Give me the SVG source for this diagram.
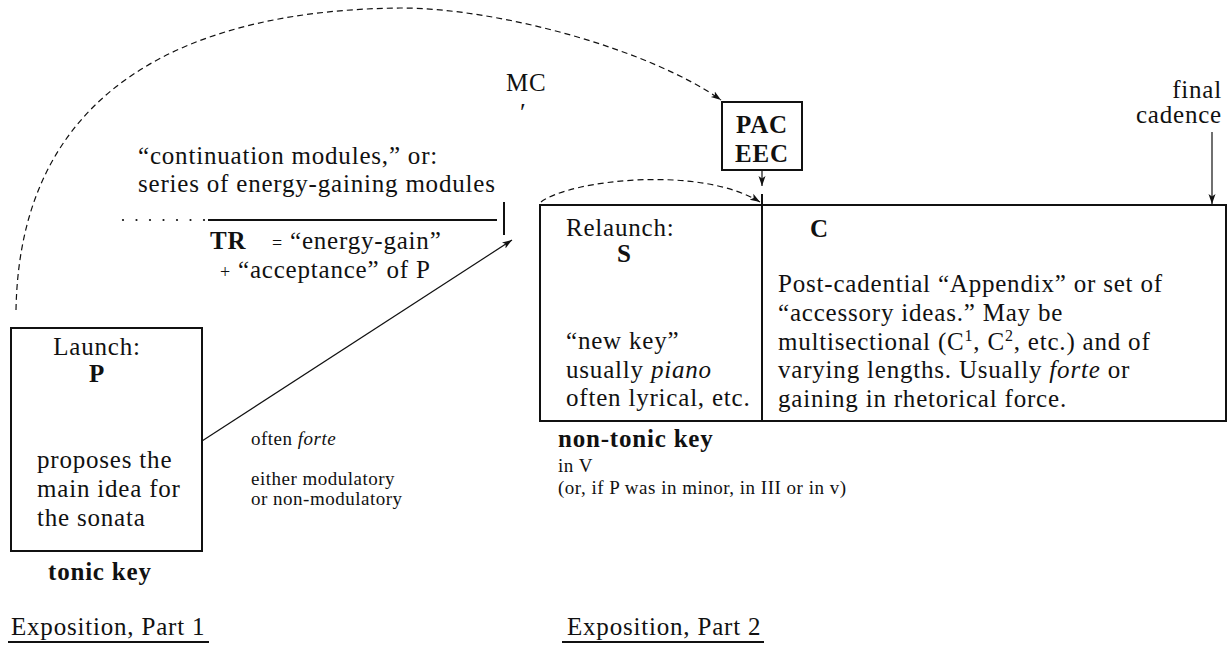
<svg xmlns="http://www.w3.org/2000/svg" width="1227" height="646" viewBox="0 0 1227 646">
<style>
text{font-family:"Liberation Serif","Times New Roman",serif;fill:#111;}
.t{font-size:25px;letter-spacing:0.8px;}
.s{font-size:19px;letter-spacing:0.5px;}
.p{font-size:26px;}
.b{font-weight:bold;}
.box{fill:#fff;stroke:#111;stroke-width:2;}
.ln{fill:none;stroke:#111;stroke-width:1.2;}
.dash{fill:none;stroke:#111;stroke-width:1.2;stroke-dasharray:6 4;}
</style>
<defs>
<marker id="ah" markerUnits="userSpaceOnUse" markerWidth="12" markerHeight="10" refX="10" refY="4" orient="auto">
<path d="M0,0.5 L10,4 L0,7.5 L2.5,4 z" fill="#111"/>
</marker>
</defs>
<rect width="1227" height="646" fill="#fff"/>

<g id="connectors">
<path class="dash" d="M16,310 C20,80 200,10 400,8 C500,8 650,50 721,100" marker-end="url(#ah)"/>
<path class="dash" d="M541,202 C570,180 700,165 760,202" marker-end="url(#ah)"/>
<line class="ln" x1="762" y1="170" x2="762" y2="186" marker-end="url(#ah)"/>
<line class="ln" x1="1212" y1="132" x2="1212" y2="204" marker-end="url(#ah)"/>
<line class="ln" x1="202" y1="441" x2="512" y2="240" marker-end="url(#ah)"/>
</g>

<g id="node-P">
<rect class="box" x="11" y="328" width="191" height="223"/>
<text class="t" x="97" y="355" text-anchor="middle">Launch:</text>
<text class="t b" x="97" y="382" text-anchor="middle">P</text>
<text class="t" x="37" y="468">proposes the</text>
<text class="t" x="37" y="497">main idea for</text>
<text class="t" x="37" y="526">the sonata</text>
<text class="t b" x="48" y="580">tonic key</text>
</g>

<g id="node-TR">
<text class="t" x="138" y="164">“continuation modules,” or:</text>
<text class="t" x="138" y="192">series of energy-gaining modules</text>
<g fill="#111">
<circle cx="123" cy="220" r="1.1"/><circle cx="136.5" cy="220" r="1.1"/><circle cx="150" cy="220" r="1.1"/><circle cx="163.5" cy="220" r="1.1"/><circle cx="177" cy="220" r="1.1"/><circle cx="190.5" cy="220" r="1.1"/><circle cx="204" cy="220" r="1.1"/>
</g>
<line x1="208" y1="220" x2="497" y2="220" stroke="#111" stroke-width="2"/>
<line x1="504" y1="202" x2="504" y2="235" stroke="#111" stroke-width="2"/>
<text class="t b" x="210" y="249">TR</text>
<text class="t" x="272" y="249"><tspan font-size="18">=</tspan> “energy-gain”</text>
<text class="t" x="220" y="278"><tspan font-size="18">+</tspan> “acceptance” of P</text>
<text class="s" x="251" y="445">often <tspan font-style="italic">forte</tspan></text>
<text class="s" x="251" y="485">either modulatory</text>
<text class="s" x="251" y="505">or non-modulatory</text>
</g>

<g id="node-MC">
<text class="t" x="506" y="91">MC</text>
<text class="p" x="520" y="121">′</text>
</g>

<g id="node-PAC">
<rect class="box" x="722" y="102" width="80" height="68"/>
<text class="t b" x="762" y="133" text-anchor="middle">PAC</text>
<text class="t b" x="762" y="162" text-anchor="middle">EEC</text>
</g>

<g id="node-final">
<text class="t" x="1222" y="98" text-anchor="end">final</text>
<text class="t" x="1222" y="123" text-anchor="end">cadence</text>
</g>

<g id="node-S">
<rect class="box" x="540" y="205" width="222" height="216"/>
<text class="t" x="566" y="236">Relaunch:</text>
<text class="t b" x="617" y="262">S</text>
<text class="t" x="566" y="349">“new key”</text>
<text class="t" x="566" y="378">usually <tspan font-style="italic">piano</tspan></text>
<text class="t" x="566" y="406">often lyrical, etc.</text>
<text class="t b" x="558" y="447">non-tonic key</text>
<text class="s" x="558" y="472">in V</text>
<text class="s" x="558" y="494">(or, if P was in minor, in III or in v)</text>
</g>

<g id="node-C">
<rect class="box" x="762" y="205" width="464" height="216"/>
<line x1="762" y1="194" x2="762" y2="205" stroke="#111" stroke-width="2"/>
<text class="t b" x="810" y="237">C</text>
<text class="t" x="778" y="292">Post-cadential “Appendix” or set of</text>
<text class="t" x="778" y="321">“accessory ideas.” May be</text>
<text class="t" x="778" y="350">multisectional (C<tspan font-size="16" dy="-9">1</tspan><tspan dy="9">, C</tspan><tspan font-size="16" dy="-9">2</tspan><tspan dy="9">, etc.) and of</tspan></text>
<text class="t" x="778" y="378">varying lengths. Usually <tspan font-style="italic">forte</tspan> or</text>
<text class="t" x="778" y="407">gaining in rhetorical force.</text>
</g>

<g id="labels">
<text class="t" x="11" y="635">Exposition, Part 1</text>
<line x1="8" y1="642" x2="209" y2="642" stroke="#111" stroke-width="2"/>
<text class="t" x="567" y="635">Exposition, Part 2</text>
<line x1="562" y1="642" x2="764" y2="642" stroke="#111" stroke-width="2"/>
</g>
</svg>
